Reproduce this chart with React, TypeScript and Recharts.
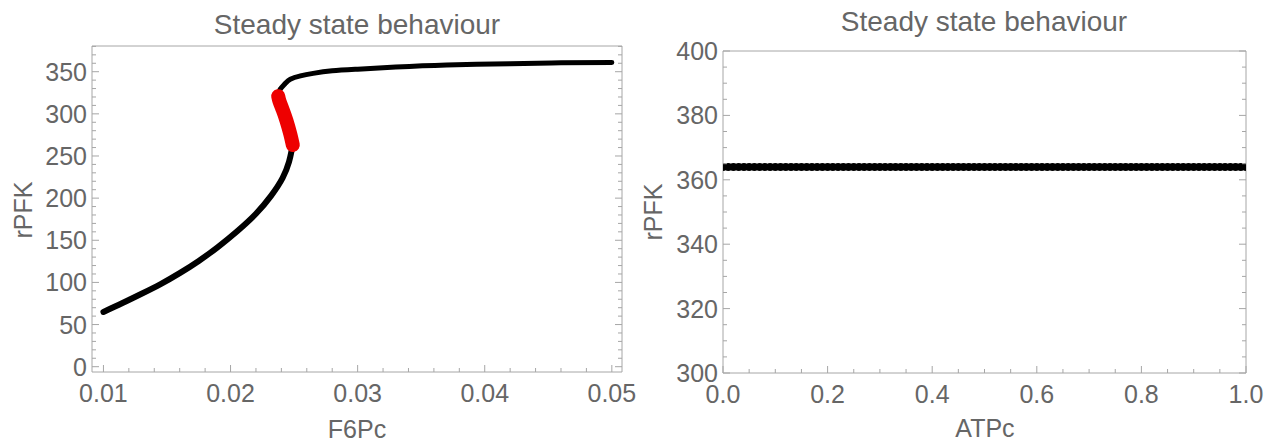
import React from "react";
import {Line, LineChart, XAxis, YAxis} from "recharts";

// left panel: rPFK vs F6Pc, three branches
const lowerF6Pc = [0.0100, 0.0115, 0.0130, 0.0145, 0.0160, 0.0175, 0.0190, 0.0205, 0.0220, 0.0232, 0.0241, 0.0246, 0.0248, 0.0249];
const lowerRPFK = [65, 75.5, 86.5, 98, 111, 125.5, 142, 160.5, 181.5, 203, 224, 243, 256, 263];

const unstableF6Pc = [0.0249, 0.0247, 0.0244, 0.0241, 0.02385, 0.02375];
const unstableRPFK = [263, 276, 292, 305, 315, 321];

const upperF6Pc = [0.02375, 0.0239, 0.0243, 0.0247, 0.0255, 0.0265, 0.0280, 0.0300, 0.0330, 0.0370, 0.0420, 0.0460, 0.0500];
const upperRPFK = [322, 329, 336, 341, 345, 348, 351, 353, 355.5, 358, 359.5, 360.5, 361];

// right panel: rPFK vs ATPc (flat)
const atpValues = [
    0.00, 0.01, 0.02, 0.03, 0.04, 0.05, 0.06, 0.07, 0.08, 0.09,
    0.10, 0.11, 0.12, 0.13, 0.14, 0.15, 0.16, 0.17, 0.18, 0.19,
    0.20, 0.21, 0.22, 0.23, 0.24, 0.25, 0.26, 0.27, 0.28, 0.29,
    0.30, 0.31, 0.32, 0.33, 0.34, 0.35, 0.36, 0.37, 0.38, 0.39,
    0.40, 0.41, 0.42, 0.43, 0.44, 0.45, 0.46, 0.47, 0.48, 0.49,
    0.50, 0.51, 0.52, 0.53, 0.54, 0.55, 0.56, 0.57, 0.58, 0.59,
    0.60, 0.61, 0.62, 0.63, 0.64, 0.65, 0.66, 0.67, 0.68, 0.69,
    0.70, 0.71, 0.72, 0.73, 0.74, 0.75, 0.76, 0.77, 0.78, 0.79,
    0.80, 0.81, 0.82, 0.83, 0.84, 0.85, 0.86, 0.87, 0.88, 0.89,
    0.90, 0.91, 0.92, 0.93, 0.94, 0.95, 0.96, 0.97, 0.98, 0.99, 1.00,
];
const atpRPFK = atpValues.map(() => 364); // constant steady state, read at 364

// tick labels
const leftXMajor = [0.01, 0.02, 0.03, 0.04, 0.05];
const leftYMajor = [0, 50, 100, 150, 200, 250, 300, 350];
const rightXMajor = [0, 0.2, 0.4, 0.6, 0.8, 1.0];
const rightYMajor = [300, 320, 340, 360, 380, 400];

const TITLE = "Steady state behaviour";

const steps = (from: number, to: number, step: number) => {
    const out: number[] = [];
    for (let v = from; v <= to + step / 2; v += step) out.push(Math.round(v * 1e6) / 1e6);
    return out;
};

const zip = (xs: number[], ys: number[]) => xs.map((x, i) => ({x, y: ys[i]}));

const FONT = "'Liberation Sans', Arial, sans-serif";
const TEXT = "#666666";
const FRAME = "#a6a6a6";
const TICK_FS = 25;
const LABEL_FS = 25;
const TITLE_FS = 28;

const makeTick = (side: string, majors: number[], fmt: (v: number) => string, labeled: boolean) =>
    (props: any) => {
        const {x, y, payload} = props;
        const v = payload.value;
        const major = majors.some(m => Math.abs(m - v) < 1e-9);
        const len = major ? 7 : 4;
        let line;
        if (side === 'bottom') line = <line x1={x} y1={y} x2={x} y2={y - len} stroke={FRAME} />;
        else if (side === 'top') line = <line x1={x} y1={y} x2={x} y2={y + len} stroke={FRAME} />;
        else if (side === 'left') line = <line x1={x} y1={y} x2={x + len} y2={y} stroke={FRAME} />;
        else line = <line x1={x} y1={y} x2={x - len} y2={y} stroke={FRAME} />;
        let label = null;
        if (labeled && major) {
            if (side === 'bottom') {
                label = <text x={x} y={y + 30} textAnchor="middle" fontSize={TICK_FS} fill={TEXT} fontFamily={FONT}>{fmt(v)}</text>;
            } else {
                label = <text x={x - 5} y={y} textAnchor="end" dominantBaseline="central" fontSize={TICK_FS} fill={TEXT} fontFamily={FONT}>{fmt(v)}</text>;
            }
        }
        return <g>{line}{label}</g>;
    };

const fmtLeftX = (v: number) => v.toFixed(2);
const fmtInt = (v: number) => String(v);
const fmtRightX = (v: number) => v.toFixed(1);

const App = () => {
    const lower = zip(lowerF6Pc, lowerRPFK);
    const unstable = zip(unstableF6Pc, unstableRPFK);
    const upper = zip(upperF6Pc, upperRPFK);
    const flat = zip(atpValues, atpRPFK);

    const lxDomain: [number, number] = [0.0091, 0.0508];
    const lyDomain: [number, number] = [-6.3, 380.5];
    const lxTicks = steps(0.01, 0.05, 0.002);
    const lyTicks = steps(0, 380, 10);
    const rxTicks = steps(0, 1, 0.05);
    const ryTicks = steps(300, 400, 5);

    return (
        <div style={{position: 'absolute', left: 0, top: 0, width: 1271, height: 446, background: '#fff'}}>
            <div style={{position: 'absolute', left: 0, top: 0}}>
                <LineChart width={640} height={446} margin={{top: 45, right: 17, bottom: 0, left: 0}}>
                    <XAxis dataKey="x" type="number" domain={lxDomain} allowDataOverflow ticks={lxTicks} interval={0}
                           height={74} tickSize={0} tickMargin={0} tickLine={false} axisLine={{stroke: FRAME}}
                           tick={makeTick('bottom', leftXMajor, fmtLeftX, true)} />
                    <XAxis xAxisId="top" orientation="top" type="number" domain={lxDomain} allowDataOverflow ticks={lxTicks} interval={0}
                           height={1} tickSize={0} tickMargin={0} tickLine={false} axisLine={{stroke: FRAME}}
                           tick={makeTick('top', leftXMajor, fmtLeftX, false)} />
                    <YAxis type="number" domain={lyDomain} allowDataOverflow ticks={lyTicks} interval={0}
                           width={92} tickSize={0} tickMargin={0} tickLine={false} axisLine={{stroke: FRAME}}
                           tick={makeTick('left', leftYMajor, fmtInt, true)} />
                    <YAxis yAxisId="right" orientation="right" type="number" domain={lyDomain} allowDataOverflow ticks={lyTicks} interval={0}
                           width={1} tickSize={0} tickMargin={0} tickLine={false} axisLine={{stroke: FRAME}}
                           tick={makeTick('right', leftYMajor, fmtInt, false)} />
                    <Line data={lower} dataKey="y" type="natural" stroke="#000" strokeWidth={6} dot={false}
                          strokeLinecap="round" isAnimationActive={false} />
                    <Line data={upper} dataKey="y" type="natural" stroke="#000" strokeWidth={5} dot={false}
                          strokeLinecap="round" isAnimationActive={false} />
                    <Line data={unstable} dataKey="y" type="natural" stroke="#ee0000" strokeWidth={14} dot={false}
                          strokeLinecap="round" isAnimationActive={false} />
                    <text x={357} y={34} textAnchor="middle" fontSize={TITLE_FS} fill={TEXT} fontFamily={FONT}>{TITLE}</text>
                    <text x={357} y={438} textAnchor="middle" fontSize={LABEL_FS} fill={TEXT} fontFamily={FONT}>F6Pc</text>
                    <text x={32} y={210} textAnchor="middle" fontSize={LABEL_FS} fill={TEXT} fontFamily={FONT}
                          transform="rotate(-90 32 210)">rPFK</text>
                </LineChart>
            </div>
            <div style={{position: 'absolute', left: 640, top: 0}}>
                <LineChart width={631} height={446} margin={{top: 50, right: 24, bottom: 0, left: 0}}>
                    <XAxis dataKey="x" type="number" domain={[0, 1]} allowDataOverflow ticks={rxTicks} interval={0}
                           height={73} tickSize={0} tickMargin={0} tickLine={false} axisLine={{stroke: FRAME}}
                           tick={makeTick('bottom', rightXMajor, fmtRightX, true)} />
                    <XAxis xAxisId="top" orientation="top" type="number" domain={[0, 1]} allowDataOverflow ticks={rxTicks} interval={0}
                           height={1} tickSize={0} tickMargin={0} tickLine={false} axisLine={{stroke: FRAME}}
                           tick={makeTick('top', rightXMajor, fmtRightX, false)} />
                    <YAxis type="number" domain={[300, 400]} allowDataOverflow ticks={ryTicks} interval={0}
                           width={83} tickSize={0} tickMargin={0} tickLine={false} axisLine={{stroke: FRAME}}
                           tick={makeTick('left', rightYMajor, fmtInt, true)} />
                    <YAxis yAxisId="right" orientation="right" type="number" domain={[300, 400]} allowDataOverflow ticks={ryTicks} interval={0}
                           width={1} tickSize={0} tickMargin={0} tickLine={false} axisLine={{stroke: FRAME}}
                           tick={makeTick('right', rightYMajor, fmtInt, false)} />
                    <Line data={flat} dataKey="y" type="linear" stroke="#000" strokeWidth={5}
                          dot={{r: 4, fill: '#000', stroke: 'none'}} isAnimationActive={false} />
                    <text x={344} y={31} textAnchor="middle" fontSize={TITLE_FS} fill={TEXT} fontFamily={FONT}>{TITLE}</text>
                    <text x={345} y={437} textAnchor="middle" fontSize={LABEL_FS} fill={TEXT} fontFamily={FONT}>ATPc</text>
                    <text x={22} y={212} textAnchor="middle" fontSize={LABEL_FS} fill={TEXT} fontFamily={FONT}
                          transform="rotate(-90 22 212)">rPFK</text>
                </LineChart>
            </div>
        </div>
    );
};

export default App;
